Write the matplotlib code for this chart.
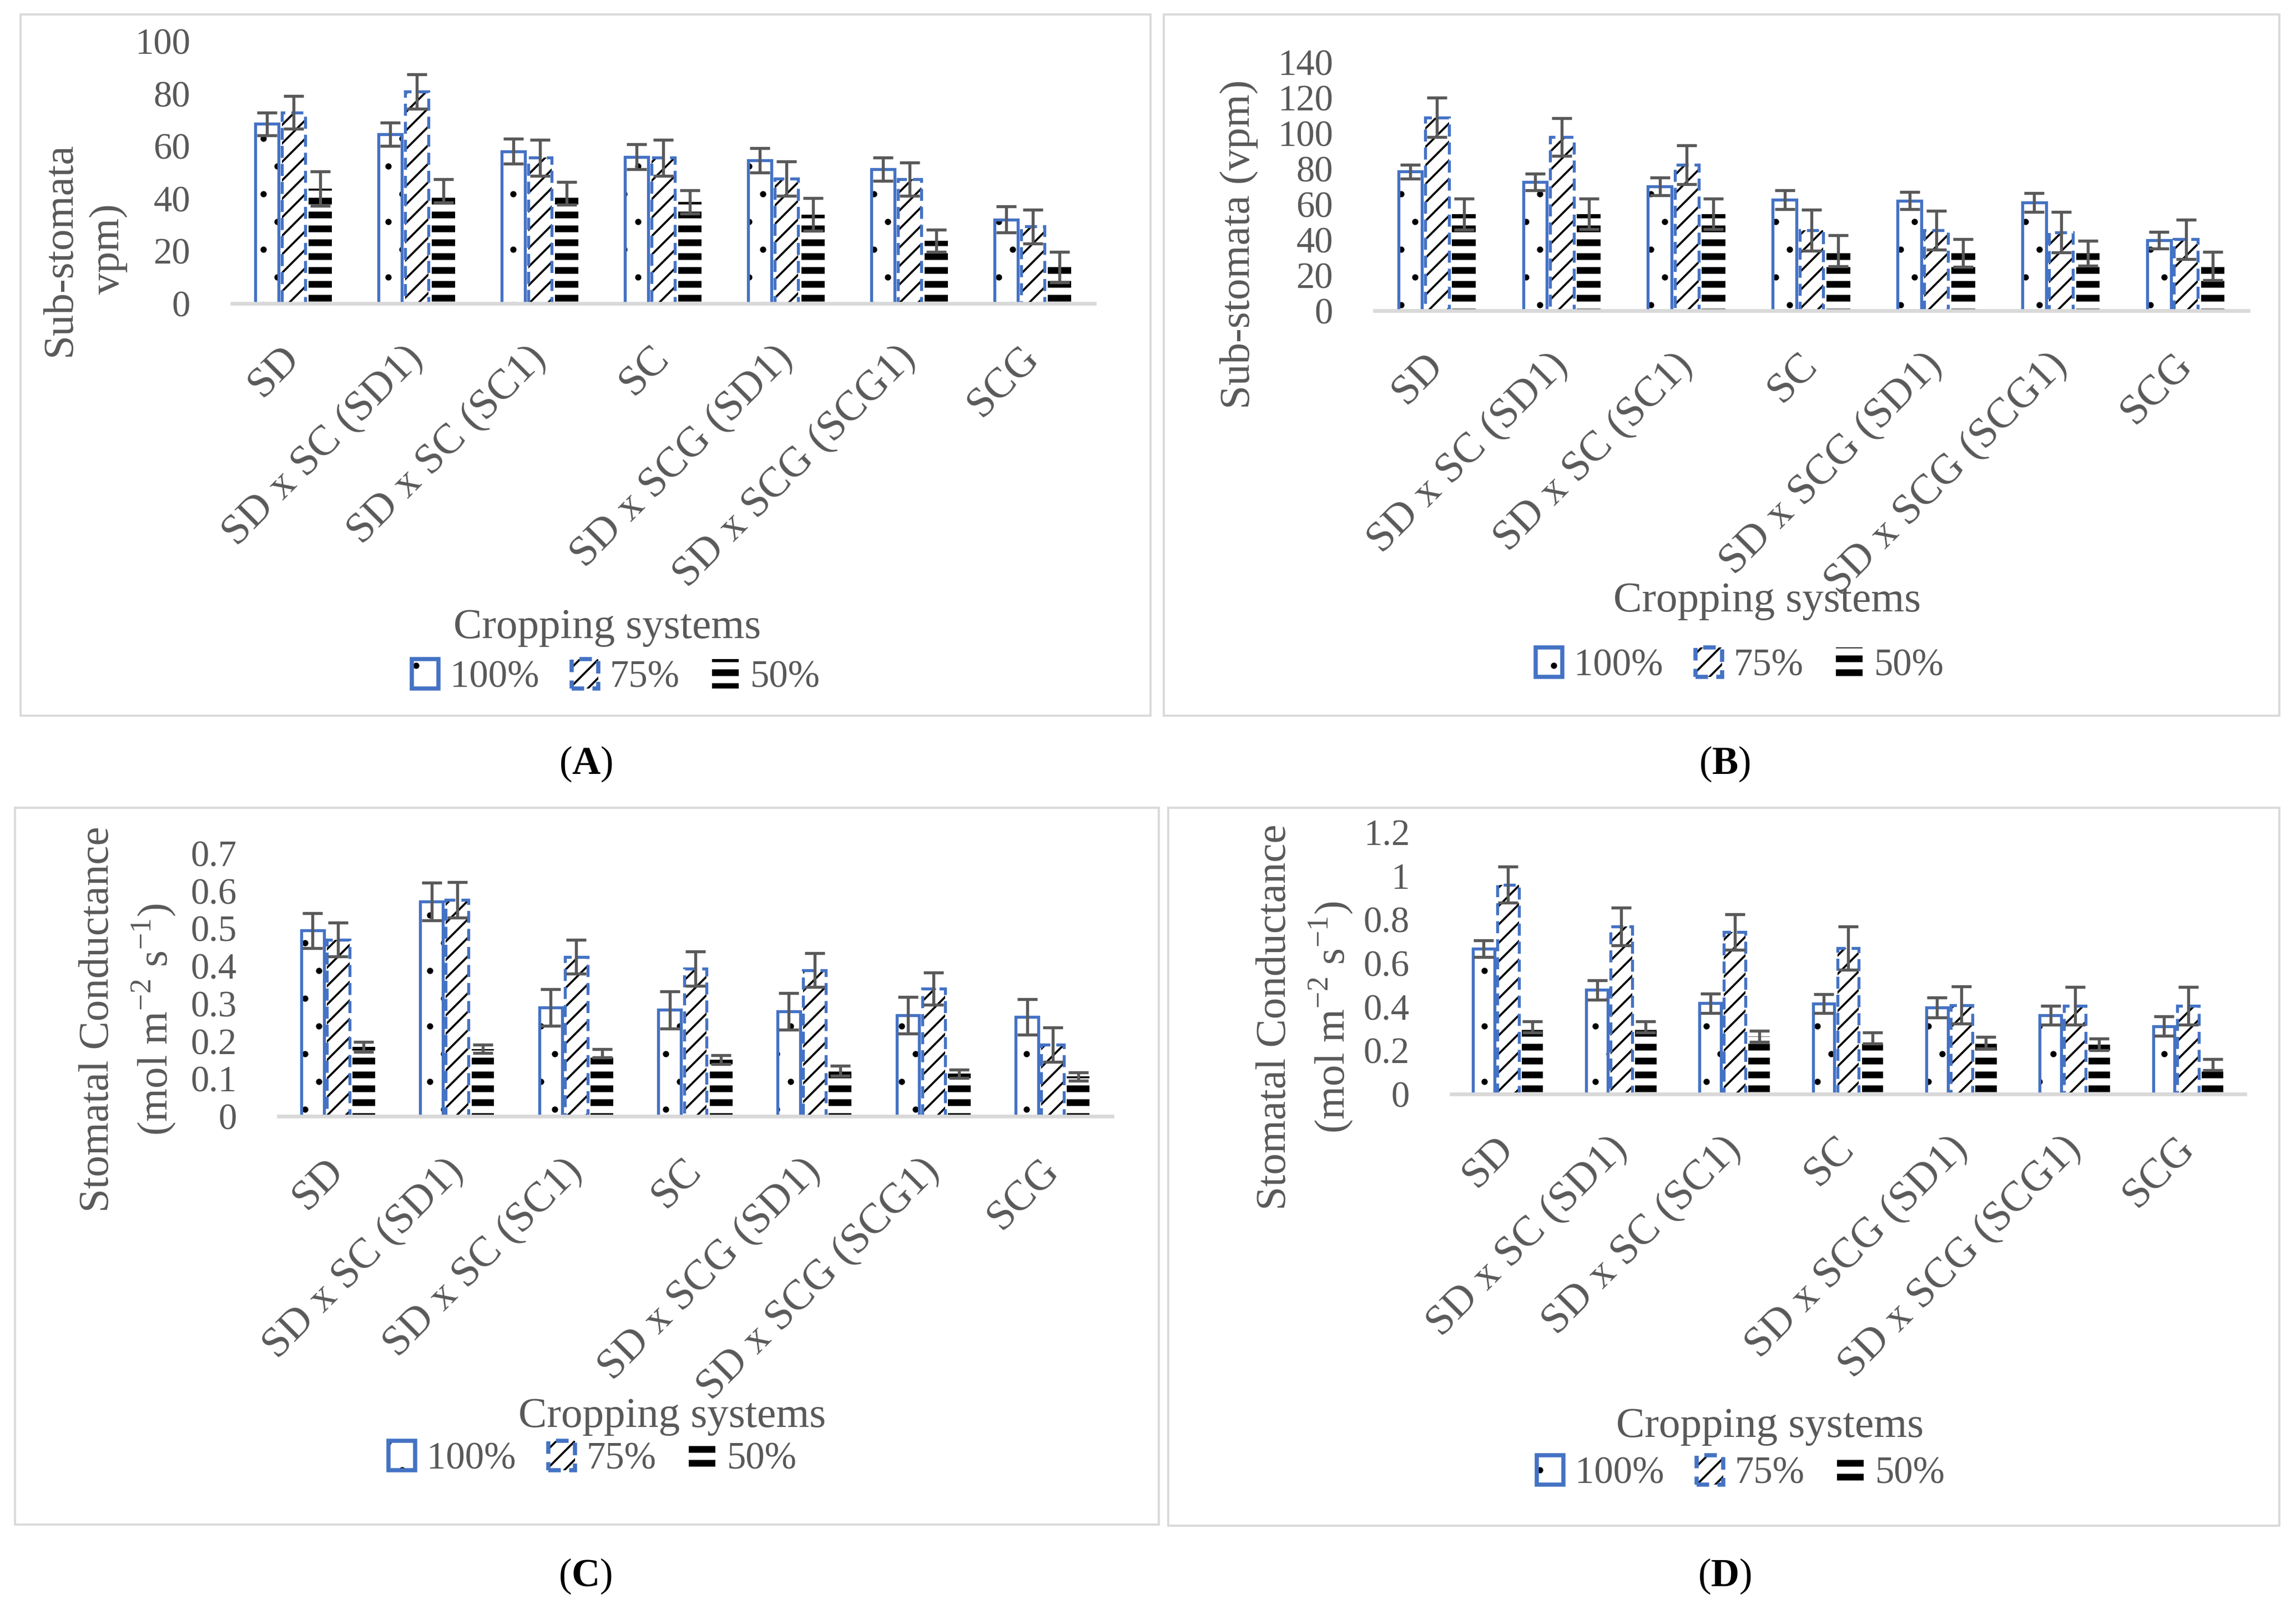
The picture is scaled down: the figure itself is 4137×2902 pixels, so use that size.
import numpy as np
import matplotlib
matplotlib.use('Agg')
import matplotlib.pyplot as plt
from matplotlib.patches import Rectangle, Patch

plt.rcParams['font.family'] = ['Liberation Serif', 'DejaVu Serif']
plt.rcParams['mathtext.fontset'] = 'custom'
plt.rcParams['mathtext.rm'] = 'Liberation Serif'
plt.rcParams['mathtext.bf'] = 'Liberation Serif:bold'

systems = ['SD', 'SD x SC (SD1)', 'SD x SC (SC1)', 'SC',
           'SD x SCG (SD1)', 'SD x SCG (SCG1)', 'SCG']
levels = ['100%', '75%', '50%']

# (A) sub-stomata
a_100 = [68.4, 64.5, 58.0, 55.9, 54.5, 51.1, 32.0]
a_100_err = [4.4, 4.4, 4.7, 4.7, 4.7, 4.4, 4.9]
a_75 = [72.8, 80.8, 55.5, 55.5, 47.6, 47.3, 29.3]
a_75_err = [6.3, 6.5, 6.9, 6.9, 6.5, 6.3, 6.5]
a_50 = [43.8, 42.9, 42.0, 38.7, 33.9, 23.9, 13.9]
a_50_err = [6.5, 4.4, 4.4, 4.5, 6.3, 4.2, 5.8]
a_ticks = ['0', '20', '40', '60', '80', '100']

# (B) sub-stomata
b_100 = [78.3, 72.6, 70.0, 62.5, 62.0, 60.9, 39.7]
b_100_err = [4.0, 4.7, 4.9, 5.2, 4.9, 5.2, 4.7]
b_75 = [108.9, 97.7, 82.2, 45.4, 45.4, 44.1, 40.2]
b_75_err = [11.0, 10.6, 10.9, 11.6, 10.9, 11.4, 11.1]
b_50 = [54.4, 54.4, 54.4, 33.7, 32.4, 32.4, 25.1]
b_50_err = [8.8, 8.6, 8.6, 8.8, 7.8, 7.0, 8.0]
b_ticks = ['0', '20', '40', '60', '80', '100', '120', '140']

# (C) stomatal conductance
c_100 = [0.494, 0.572, 0.289, 0.283, 0.279, 0.269, 0.264]
c_100_err = [0.047, 0.050, 0.049, 0.050, 0.049, 0.049, 0.047]
c_75 = [0.470, 0.576, 0.424, 0.393, 0.389, 0.340, 0.190]
c_75_err = [0.045, 0.047, 0.045, 0.046, 0.045, 0.043, 0.046]
c_50 = [0.185, 0.179, 0.167, 0.151, 0.121, 0.113, 0.106]
c_50_err = [0.013, 0.011, 0.011, 0.012, 0.013, 0.011, 0.011]
c_ticks = ['0', '0.1', '0.2', '0.3', '0.4', '0.5', '0.6', '0.7']

# (D) stomatal conductance
d_100 = [0.667, 0.477, 0.416, 0.414, 0.397, 0.361, 0.311]
d_100_err = [0.038, 0.044, 0.045, 0.043, 0.045, 0.043, 0.045]
d_75 = [0.959, 0.767, 0.743, 0.669, 0.408, 0.404, 0.404]
d_75_err = [0.083, 0.086, 0.082, 0.100, 0.084, 0.086, 0.086]
d_50 = [0.308, 0.308, 0.265, 0.256, 0.235, 0.227, 0.135]
d_50_err = [0.025, 0.025, 0.025, 0.025, 0.026, 0.026, 0.026]
d_ticks = ['0', '0.2', '0.4', '0.6', '0.8', '1', '1.2']

BLUE = '#4472C4'
GRAY = '#595959'
LIGHT = '#D9D9D9'

W, H = 4137, 2902
fig = plt.figure(figsize=(W / 300, H / 300), dpi=300)


def fx(x):
    return x / W


def fy(y):
    return 1 - y / H


def set_hlw(p, hlw):
    if hasattr(p, 'set_hatch_linewidth'):
        p.set_hatch_linewidth(hlw)


def hatched(ax, x, v, w, hatch, hlw, **kw):
    with plt.rc_context({'hatch.linewidth': hlw}):
        bars = ax.bar(x, v, w, **kw)
    for b in bars:
        set_hlw(b, hlw)
        b.set_hatch(hatch)
    return bars


def legend_patch(hatch, hlw, **kw):
    with plt.rc_context({'hatch.linewidth': hlw}):
        p = Patch(hatch=hatch, **kw)
    set_hlw(p, hlw)
    return p


def panel(rect, series, ymax, step, ticks, ylabel, ylab_xy, xt_xy, leg_xy, box, tag, tag_xy):
    left, top, right, bottom = rect
    ax = fig.add_axes([fx(left), fy(bottom), fx(right) - fx(left), fy(top) - fy(bottom)])
    x = np.arange(len(systems))
    w = 0.19
    offs = [-0.215, 0.0, 0.215]
    (v1, e1), (v2, e2), (v3, e3) = series

    hatched(ax, x + offs[0], v1, w, '.', 0.3, color='white', edgecolor='black', linewidth=0, zorder=1)
    ax.bar(x + offs[0], v1, w, facecolor='none', edgecolor=BLUE, linewidth=1.3, zorder=1.2)

    hatched(ax, x + offs[1], v2, w, '///', 0.9, color='white', edgecolor='black', linewidth=0, zorder=1)
    ax.bar(x + offs[1], v2, w, facecolor='none', edgecolor=BLUE, linewidth=1.3,
           linestyle=(0, (4, 2)), zorder=1.2)

    hatched(ax, x + offs[2], v3, w, '--', 2.9, color='white', edgecolor='black', linewidth=0, zorder=1)

    for off, v, e in zip(offs, (v1, v2, v3), (e1, e2, e3)):
        ax.errorbar(x + off, v, yerr=e, fmt='none', ecolor=GRAY, elinewidth=1.3,
                    capsize=4.3, capthick=1.3, zorder=3)

    ax.set_xlim(-0.5, len(systems) - 0.5)
    ax.set_ylim(0, ymax)
    ax.set_yticks(np.arange(len(ticks)) * step)
    ax.set_yticklabels(ticks)
    ax.set_xticks(x)
    ax.set_xticklabels(systems, rotation=45, ha='right', va='center', rotation_mode='anchor')
    ax.tick_params(axis='y', length=0, pad=18, labelsize=16, labelcolor=GRAY)
    ax.tick_params(axis='x', length=0, pad=21, labelsize=18.5, labelcolor=GRAY)
    for s in ['left', 'right', 'top']:
        ax.spines[s].set_visible(False)
    ax.spines['bottom'].set_color(LIGHT)
    ax.spines['bottom'].set_linewidth(1.6)
    ax.spines['bottom'].set_zorder(2.5)
    ax.set_facecolor('none')

    fig.text(fx(ylab_xy[0]), fy(ylab_xy[1]), ylabel, rotation=90, ha='center', va='center',
             fontsize=18.5, color=GRAY, linespacing=1.35, multialignment='center')
    fig.text(fx(xt_xy[0]), fy(xt_xy[1]), 'Cropping systems', ha='center', va='center',
             fontsize=18.5, color=GRAY)

    h1 = (legend_patch('.', 0.3, facecolor='white', edgecolor='black', linewidth=0),
          Patch(facecolor='none', edgecolor=BLUE, linewidth=1.8))
    h2 = (legend_patch('///', 0.9, facecolor='white', edgecolor='black', linewidth=0),
          Patch(facecolor='none', edgecolor=BLUE, linewidth=1.8, linestyle=(0, (3, 2))))
    h3 = legend_patch('--', 2.9, facecolor='white', edgecolor='black', linewidth=0)
    leg = ax.legend([h1, h2, h3], levels, loc='center',
                    bbox_to_anchor=(fx(leg_xy[0]), fy(leg_xy[1])),
                    bbox_transform=fig.transFigure, ncol=3, frameon=False, fontsize=16.5,
                    handlelength=0.7, handleheight=0.8, handletextpad=0.3, columnspacing=0.85,
                    labelcolor=GRAY, borderpad=0)
    for hd, hl in zip(leg.legend_handles, [0.3, 0.9, 2.9]):
        set_hlw(hd, hl)

    bx0, by0, bx1, by1 = box
    fig.patches.append(Rectangle((fx(bx0), fy(by1)), fx(bx1) - fx(bx0), fy(by0) - fy(by1),
                                 transform=fig.transFigure, fill=False, edgecolor=LIGHT,
                                 linewidth=0.9))
    fig.text(fx(tag_xy[0]), fy(tag_xy[1]), '($\\mathbf{' + tag + '}$)', ha='center', va='center',
             fontsize=17, color='black')
    return ax


panel((418, 74, 1972, 547),
      [(a_100, a_100_err), (a_75, a_75_err), (a_50, a_50_err)],
      100, 20, a_ticks, 'Sub-stomata\nvpm)', (152, 449), (1094, 1131), (1110, 1221),
      (37, 26, 2073, 1290), 'A', (1056, 1377))

panel((2477, 112, 4051, 560),
      [(b_100, b_100_err), (b_75, b_75_err), (b_50, b_50_err)],
      140, 20, b_ticks, 'Sub-stomata (vpm)', (2232, 440), (3184, 1083), (3135, 1200),
      (2097, 26, 4107, 1290), 'B', (3108, 1377))

panel((502, 1538, 2004, 2012),
      [(c_100, c_100_err), (c_75, c_75_err), (c_50, c_50_err)],
      0.7, 0.1, c_ticks, 'Stomatal Conductance\n(mol m$^{-2}$ s$^{-1}$)', (231, 1837),
      (1211, 2553), (1068, 2630), (27, 1456, 2088, 2748), 'C', (1055, 2841))

panel((2615, 1500, 4045, 1972),
      [(d_100, d_100_err), (d_75, d_75_err), (d_50, d_50_err)],
      1.2, 0.2, d_ticks, 'Stomatal Conductance\n(mol m$^{-2}$ s$^{-1}$)', (2352, 1833),
      (3189, 2572), (3137, 2656), (2105, 1456, 4107, 2750), 'D', (3108, 2841))

fig.savefig('out.png', dpi=300, facecolor='white')
